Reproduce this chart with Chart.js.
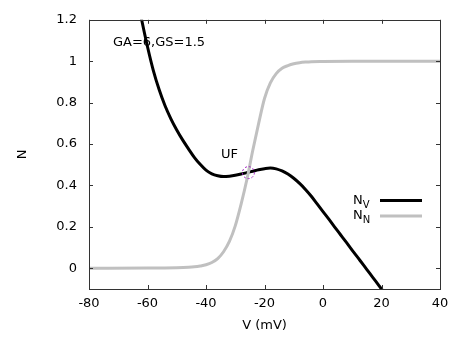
<!DOCTYPE html>
<html>
<head>
<meta charset="utf-8">
<script src="https://cdn.jsdelivr.net/npm/chart.js@4.4.1/dist/chart.umd.min.js"></script>
<style>
html, body { margin: 0; padding: 0; background: #fff; }
</style>
</head>
<body>
<canvas id="chart" width="451" height="337"></canvas>
<script>
// N_V nullcline (black)
const nvV = [-64, -62, -60, -58, -56, -54, -52, -50, -48, -46, -44, -42, -40, -38, -36, -34, -32, -30, -28, -26, -24, -22, -20, -18, -16, -14, -12, -10, -8, -6, -4, -2, 0, 2, 4, 6, 8, 10, 12, 14, 16, 18, 20, 22];
const nvN = [1.345, 1.2, 1.07, 0.955, 0.862, 0.785, 0.722, 0.668, 0.62, 0.577, 0.536, 0.502, 0.474, 0.456, 0.447, 0.443, 0.445, 0.449, 0.455, 0.462, 0.469, 0.476, 0.481, 0.484, 0.48, 0.47, 0.455, 0.435, 0.41, 0.381, 0.348, 0.311, 0.274, 0.237, 0.199, 0.162, 0.125, 0.087, 0.05, 0.013, -0.025, -0.062, -0.1, -0.137];

// N_N nullcline (grey)
const nnV = [-80, -60, -50, -46, -44, -42, -40, -38, -36, -34, -32, -30, -28, -26, -24, -22, -20, -18, -16, -14, -12, -10, -8, -6, -4, 0, 10, 40];
const nnN = [0, 0.001, 0.003, 0.005, 0.007, 0.011, 0.017, 0.028, 0.047, 0.08, 0.13, 0.205, 0.31, 0.43, 0.57, 0.7, 0.82, 0.895, 0.94, 0.966, 0.979, 0.988, 0.993, 0.996, 0.998, 0.999, 1, 1];

// unstable focus
const ufV = [-25.5];
const ufN = [0.462];

const xTicks = [-80, -60, -40, -20, 0, 20, 40];
const yTicks = [0, 0.2, 0.4, 0.6, 0.8, 1, 1.2];

const FONT = '"DejaVu Sans", Verdana, sans-serif';

const toPoints = (xs, ys) => xs.map((x, i) => ({ x: x, y: ys[i] }));

// frame, inward ticks, labels, legend, UF marker
const decorations = {
  id: 'decorations',
  afterDraw(chart) {
    const ctx = chart.ctx;
    const a = chart.chartArea;
    const xs = chart.scales.x;
    const ys = chart.scales.y;
    ctx.save();

    ctx.strokeStyle = '#333';
    ctx.lineWidth = 1;
    ctx.beginPath();
    xTicks.forEach(v => {
      const px = Math.round(xs.getPixelForValue(v)) + 0.5;
      ctx.moveTo(px, a.bottom); ctx.lineTo(px, a.bottom - 4);
      ctx.moveTo(px, a.top); ctx.lineTo(px, a.top + 4);
    });
    yTicks.forEach(v => {
      const py = Math.round(ys.getPixelForValue(v)) + 0.5;
      ctx.moveTo(a.left, py); ctx.lineTo(a.left + 4, py);
      ctx.moveTo(a.right, py); ctx.lineTo(a.right - 4, py);
    });
    ctx.stroke();
    ctx.strokeRect(Math.round(a.left) + 0.5, Math.round(a.top) + 0.5, Math.round(a.right - a.left), Math.round(a.bottom - a.top));

    // UF circle
    const pt = chart.getDatasetMeta(2).data[0];
    ctx.strokeStyle = '#a020c0';
    ctx.lineWidth = 1;
    ctx.setLineDash([2, 2]);
    ctx.beginPath();
    ctx.arc(pt.x, pt.y, 6, 0, Math.PI * 2);
    ctx.stroke();
    ctx.setLineDash([]);

    ctx.fillStyle = '#000';
    ctx.font = '13px ' + FONT;
    ctx.textBaseline = 'middle';
    ctx.textAlign = 'left';
    ctx.fillText('GA=6,GS=1.5', xs.getPixelForValue(-71.8), ys.getPixelForValue(1.09));
    ctx.textAlign = 'center';
    ctx.fillText('UF', pt.x - 19, pt.y - 18);

    // legend
    const lx = a.right - 87;
    const lineX1 = a.right - 60;
    const lineX2 = a.right - 18;
    const rows = [
      { sub: 'V', color: '#000', y: 200.5 },
      { sub: 'N', color: '#c0c0c0', y: 216 }
    ];
    rows.forEach(r => {
      ctx.textBaseline = 'alphabetic';
      ctx.textAlign = 'left';
      ctx.font = '13px ' + FONT;
      ctx.fillStyle = '#000';
      ctx.fillText('N', lx, r.y + 3);
      const w = ctx.measureText('N').width;
      ctx.font = '10px ' + FONT;
      ctx.fillText(r.sub, lx + w, r.y + 7);
      ctx.strokeStyle = r.color;
      ctx.lineWidth = 3;
      ctx.beginPath();
      ctx.moveTo(lineX1, r.y);
      ctx.lineTo(lineX2, r.y);
      ctx.stroke();
    });

    ctx.restore();
  }
};

const ctx = document.getElementById('chart').getContext('2d');
new Chart(ctx, {
  type: 'scatter',
  data: {
    datasets: [
      {
        label: 'N_N',
        data: toPoints(nnV, nnN),
        showLine: true,
        borderColor: '#c0c0c0',
        borderWidth: 3,
        pointRadius: 0,
        cubicInterpolationMode: 'monotone'
      },
      {
        label: 'N_V',
        data: toPoints(nvV, nvN),
        showLine: true,
        borderColor: '#000',
        borderWidth: 3,
        pointRadius: 0,
        cubicInterpolationMode: 'monotone'
      },
      {
        label: 'UF',
        data: toPoints(ufV, ufN),
        pointRadius: 0
      }
    ]
  },
  options: {
    responsive: false,
    animation: false,
    layout: { padding: { left: 0, right: 11, top: 16, bottom: 0 } },
    plugins: { legend: { display: false }, tooltip: { enabled: false } },
    scales: {
      x: {
        type: 'linear',
        min: -80,
        max: 40,
        afterBuildTicks: s => { s.ticks = xTicks.map(v => ({ value: v })); },
        afterFit: s => { s.height = 48; s.paddingRight = 0; s.paddingLeft = 0; },
        grid: { display: false, drawTicks: false },
        border: { display: false },
        ticks: { color: '#000', padding: 7, font: { family: FONT, size: 13 }, callback: v => String(v) },
        title: { display: true, text: 'V (mV)', color: '#000', padding: { top: 0, bottom: 4 }, font: { family: FONT, size: 13 } }
      },
      y: {
        type: 'linear',
        min: -0.1,
        max: 1.2,
        afterBuildTicks: s => { s.ticks = yTicks.map(v => ({ value: v })); },
        afterFit: s => { s.width = 89; },
        grid: { display: false, drawTicks: false },
        border: { display: false },
        ticks: { color: '#000', padding: 12, font: { family: FONT, size: 13 }, callback: v => String(v) },
        title: { display: true, text: 'N', color: '#000', padding: { top: 15, bottom: 0 }, font: { family: FONT, size: 13 } }
      }
    }
  },
  plugins: [decorations]
});
</script>
</body>
</html>
